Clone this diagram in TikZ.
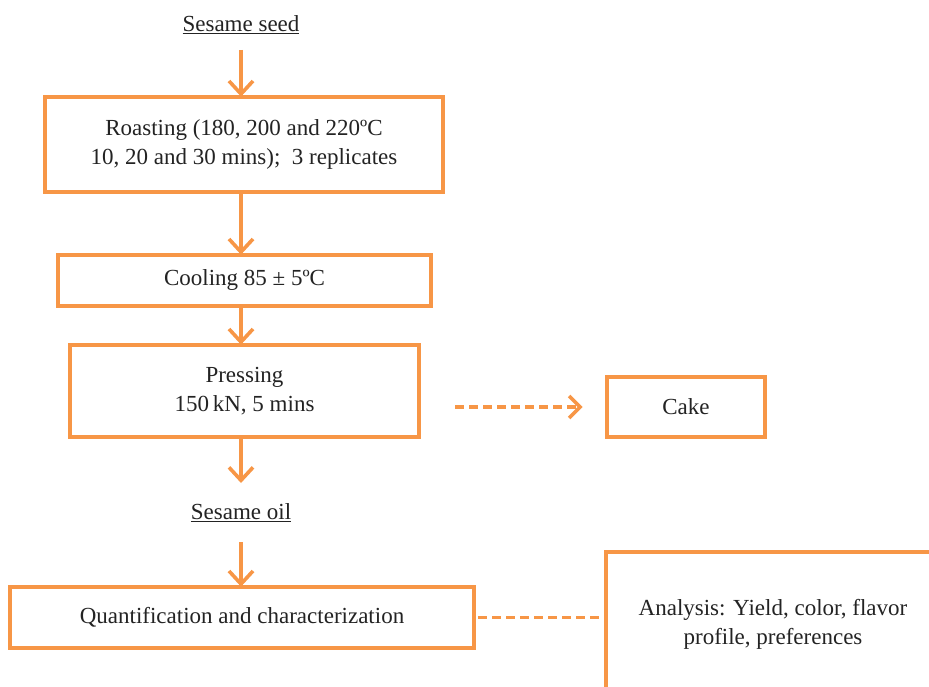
\documentclass[tikz,border=0pt]{standalone}
\usepackage{fontspec}
\setmainfont{Liberation Serif}
\usetikzlibrary{arrows.meta}
\definecolor{orng}{RGB}{247,150,70}
\definecolor{edge}{RGB}{130,130,130}
\definecolor{txt}{RGB}{35,35,35}
\tikzset{
  box/.style={draw=edge, line width=0.7pt, double=orng, double distance=3.4pt, fill=white, align=center, inner sep=0pt, text=txt, font=\fontsize{23}{29}\selectfont},
  flow/.style={draw=orng, line width=3.6pt, -{Straight Barb[length=13pt, width=24pt, line width=3.6pt]}},
  dashflow/.style={draw=orng, line width=3.8pt, dash pattern=on 9pt off 5pt},
  lbl/.style={text=txt, font=\fontsize{23}{29}\selectfont, inner sep=0pt}
}
\begin{document}
\begin{tikzpicture}[x=1pt,y=-1pt]
\useasboundingbox (0,0) rectangle (929,687);
\clip (0,0) rectangle (929,687);
\fill[white] (0,0) rectangle (929,687);
\node[lbl] (seed) at (241,25) {\underline{Sesame seed}};
\node[box, minimum width=398pt, minimum height=95pt] (roast) at (244,144.5) {Roasting (180, 200 and 220ºC\\10, 20 and 30 mins);\ \ 3 replicates};
\node[box, minimum width=373pt, minimum height=51pt] (cool) at (244.5,280.5) {Cooling 85 ± 5ºC};
\node[box, minimum width=349pt, minimum height=92pt] (press) at (244.5,391) {Pressing\\150\,kN, 5 mins};
\node[box, minimum width=158pt, minimum height=60pt] (cake) at (686,407) {Cake};
\node[lbl] (oil) at (241,513) {\underline{Sesame oil}};
\node[box, minimum width=464pt, minimum height=61pt] (quant) at (242,617.5) {Quantification and characterization};
\node[box, minimum width=334pt, minimum height=144pt] (anal) at (773,624) {Analysis: Yield, color, flavor\\profile, preferences};
\coordinate (s1) at (241,50);
\coordinate (s2) at (241,542);
\draw[flow] (s1) -- (roast.north -| s1);
\draw[flow] (roast.south -| s1) -- (cool.north -| s1);
\draw[flow] (cool.south -| s1) -- (press.north -| s1);
\coordinate (o1) at (241,483);
\draw[flow] (press.south -| s1) -- (o1);
\draw[flow] (s2) -- (quant.north -| s2);
\draw[dashflow, -{Straight Barb[length=11pt, width=22pt, line width=3.6pt]}, shorten <=36pt, shorten >=24pt] (press.east |- cake.west) -- (cake.west);
\draw[dashflow, shorten <=4pt, shorten >=5pt] (quant.east) -- (anal.west |- quant.east);
\end{tikzpicture}
\end{document}
